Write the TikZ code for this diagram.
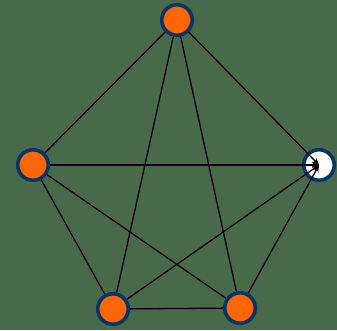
\documentclass[tikz,border=0pt]{standalone}
\usetikzlibrary{arrows.meta}
\definecolor{bg}{RGB}{72,106,74}
\definecolor{vorange}{RGB}{255,102,0}
\definecolor{vblue}{RGB}{8,52,104}
\begin{document}
\begin{tikzpicture}[x=1pt,y=1pt,
  vert/.style={circle,draw=vblue,line width=3.6pt,fill=vorange,minimum size=30.5pt,inner sep=0pt},
  wvert/.style={vert,fill=white},
  edge/.style={line width=1.3pt,black},
  arr/.style={edge,-{Stealth[length=7pt,width=6pt]}}]
\fill[bg] (0,0) rectangle (337,330);
\useasboundingbox (0,0) rectangle (337,330);
\node[vert] (t) at (177,310) {};
\node[vert] (l) at (33,165) {};
\node[wvert] (r) at (319,165) {};
\node[vert] (bl) at (113,21) {};
\node[vert] (br) at (240,22) {};
\draw[edge] (t) -- (l);
\draw[edge] (t) -- (bl);
\draw[edge] (t) -- (br);
\draw[edge] (l) -- (bl);
\draw[edge] (l) -- (br);
\draw[edge] (bl) -- (br);
\draw[arr] (t) -- (r.center);
\draw[arr] (l) -- (r.center);
\draw[arr] (bl) -- (r.center);
\draw[arr] (br) -- (r.center);
\end{tikzpicture}
\end{document}
